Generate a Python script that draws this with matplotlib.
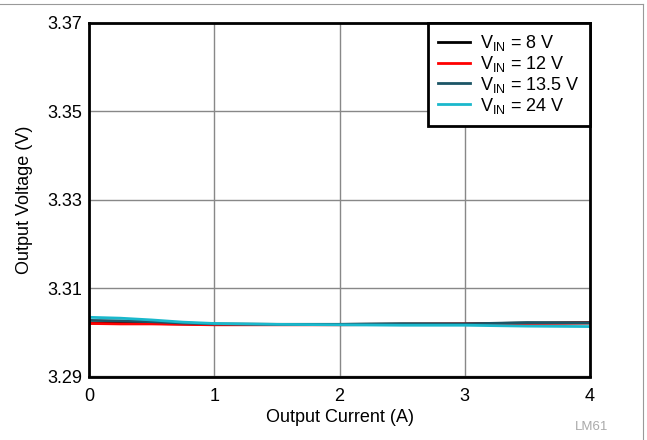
import matplotlib
matplotlib.use("Agg")
import matplotlib.pyplot as plt
from matplotlib.lines import Line2D

plt.rcParams['font.family'] = ['Liberation Sans', 'DejaVu Sans']
plt.rcParams['mathtext.fontset'] = 'custom'
plt.rcParams['mathtext.rm'] = 'Liberation Sans'

current = [0.0, 0.25, 0.5, 0.75, 1.0, 1.5, 2.0, 2.5, 3.0, 3.5, 4.0]
v_8 = [3.3021, 3.3021, 3.3020, 3.3019, 3.3018, 3.3018, 3.3018, 3.3019, 3.3019, 3.3021, 3.3022]
v_12 = [3.3020, 3.3019, 3.3019, 3.3018, 3.3017, 3.3017, 3.3017, 3.3018, 3.3019, 3.3020, 3.3021]
v_13_5 = [3.3027, 3.3026, 3.3024, 3.3021, 3.3019, 3.3018, 3.3018, 3.3019, 3.3019, 3.3022, 3.3021]
v_24 = [3.3034, 3.3032, 3.3028, 3.3023, 3.3020, 3.3018, 3.3017, 3.3016, 3.3016, 3.3014, 3.3013]

series = [
    (v_8, '#000000', r'V$_{\mathregular{IN}}$ = 8 V'),
    (v_12, '#ff0000', r'V$_{\mathregular{IN}}$ = 12 V'),
    (v_13_5, '#1c5566', r'V$_{\mathregular{IN}}$ = 13.5 V'),
    (v_24, '#1ab8cc', r'V$_{\mathregular{IN}}$ = 24 V'),
]

x_ticks = [0, 1, 2, 3, 4]
y_ticks = [3.29, 3.31, 3.33, 3.35, 3.37]
y_tick_labels = ['3.29', '3.31', '3.33', '3.35', '3.37']

fig = plt.figure(figsize=(6.47, 4.40), dpi=100)
ax = fig.add_axes([89/647, 1-376.5/440, (590-89)/647, (376.5-23)/440])

for vals, col, lab in series:
    ax.plot(current, vals, color=col, lw=2.0, label=lab)

ax.set_xlim(0, 4)
ax.set_ylim(3.29, 3.37)
ax.set_xticks(x_ticks)
ax.set_yticks(y_ticks)
ax.set_yticklabels(y_tick_labels)
ax.tick_params(length=0, labelsize=13)
ax.tick_params(axis='x', pad=8)
ax.tick_params(axis='y', pad=5)
ax.grid(True, color='#888888', lw=1.0)
for s in ax.spines.values():
    s.set_linewidth(2.0)
    s.set_color('black')

ax.set_xlabel('Output Current (A)', fontsize=13, labelpad=3)
ax.set_ylabel('Output Voltage (V)', fontsize=13, labelpad=10)

leg = ax.legend(loc='upper right', borderaxespad=0, fancybox=False,
                edgecolor='black', framealpha=1, fontsize=13,
                handlelength=1.8, handletextpad=0.55, labelspacing=0.05,
                borderpad=0.55)
leg.get_frame().set_linewidth(2.0)

fig.text(592/647, 1-427/440, 'LM61', color='#aaaaaa', fontsize=9.5,
         ha='center', va='center')

fig.add_artist(Line2D([0, 643/647], [1-4/440, 1-4/440], color='#999999', lw=0.8,
                      transform=fig.transFigure))
fig.add_artist(Line2D([643/647, 643/647], [1-4/440, 0], color='#999999', lw=0.8,
                      transform=fig.transFigure))

fig.savefig('out.png', dpi=100)
